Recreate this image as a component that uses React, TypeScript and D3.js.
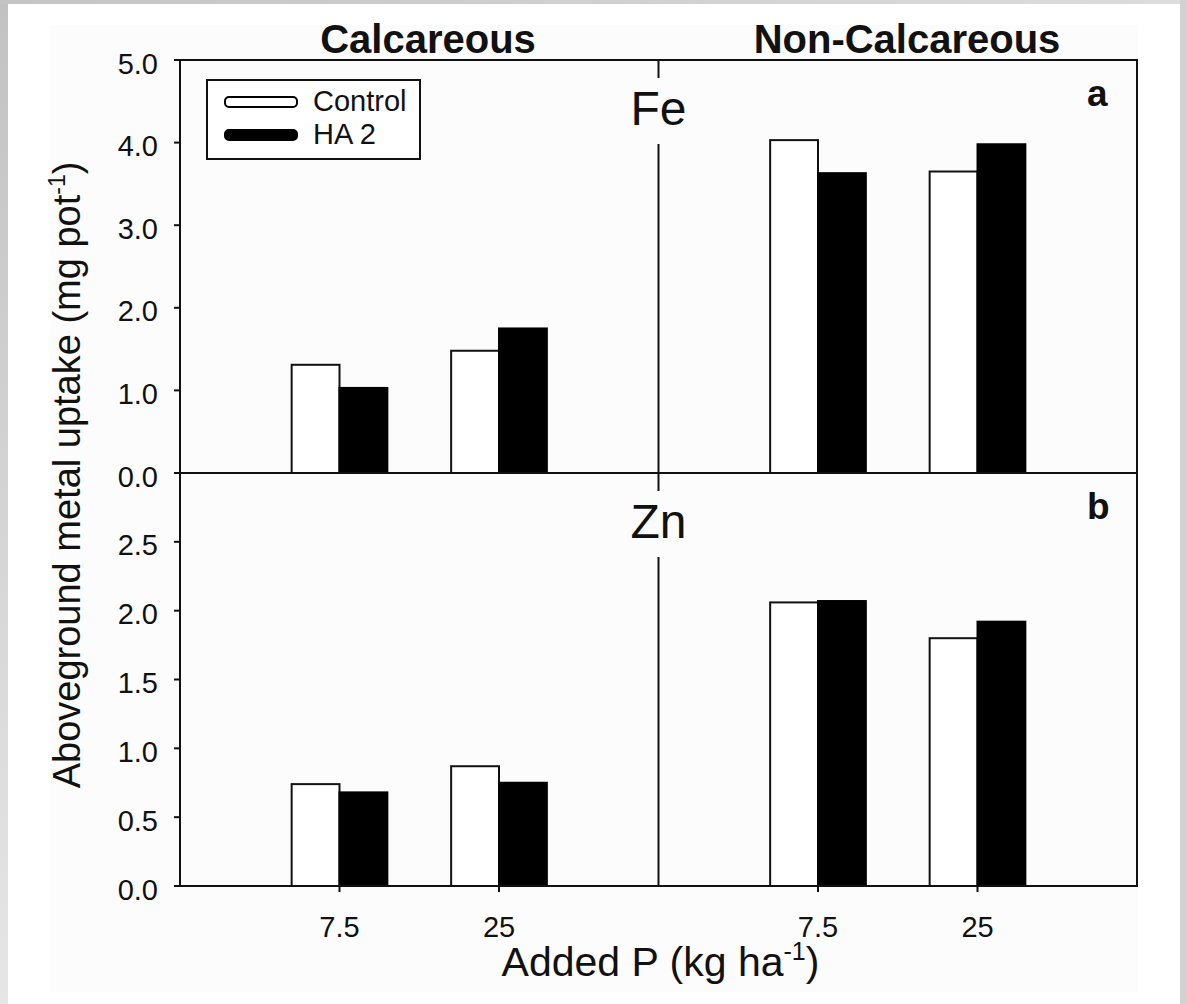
import React from 'react';
import * as d3 from 'd3';

// soils and P rates along the x axis
const soils = ['Calcareous', 'Non-Calcareous'];
const rates = ['7.5', '25', '7.5', '25'];
const ratePos = [1, 2, 4, 5];
const dividerPos = 3;
const seriesNames = ['Control', 'HA 2'];

// panel a: Fe uptake (mg pot-1)
const feControl = [1.31, 1.48, 4.03, 3.65];
const feHA2 = [1.03, 1.75, 3.63, 3.98];
const feTicks = [0, 1, 2, 3, 4, 5];

// panel b: Zn uptake (mg pot-1)
const znControl = [0.74, 0.87, 2.06, 1.8];
const znHA2 = [0.68, 0.75, 2.07, 1.92];
const znTicks = [0, 0.5, 1, 1.5, 2, 2.5];

const W = 1187;
const H = 1004;
const left = 180;
const right = 1137;
const top = 60;
const mid = 473;
const bottom = 886;
const barW = 0.3; // in x units
const font = '"Liberation Sans", Arial, Helvetica, sans-serif';
const ink = '#111';

const x = d3.scaleLinear().domain([0, 6]).range([left, right]);

const panels = [
  { metal: 'Fe', letter: 'a', control: feControl, ha: feHA2, ticks: feTicks, max: 5, y0: top, y1: mid },
  { metal: 'Zn', letter: 'b', control: znControl, ha: znHA2, ticks: znTicks, max: 3, y0: mid, y1: bottom },
];

const App: React.FC = () => {
  return (
    <svg width={W} height={H} style={{ position: 'absolute', left: 0, top: 0 }} fontFamily={font}>
      <defs>
        <linearGradient id="lg" x1="0" y1="0" x2="0" y2="1">
          <stop offset="0" stopColor="#c2c2c2" />
          <stop offset="1" stopColor="#e6e6e6" />
        </linearGradient>
        <linearGradient id="tg" x1="0" y1="0" x2="1" y2="0">
          <stop offset="0" stopColor="#c4c4c4" />
          <stop offset="1" stopColor="#dcdcdc" />
        </linearGradient>
      </defs>
      <rect x={0} y={0} width={W} height={H} fill="#fff" />
      <rect x={50} y={25} width={1088} height={967} fill="#fcfcfc" />
      <rect x={0} y={0} width={8} height={H} fill="url(#lg)" />
      <rect x={0} y={0} width={W} height={4} fill="url(#tg)" />
      <rect x={1180} y={0} width={7} height={H} fill="#d2d2d2" />

      {/* soil headers */}
      {soils.map((s, i) => (
        <text key={s} x={i === 0 ? 428 : 907} y={53} textAnchor="middle" fontSize={40} fontWeight="bold" fill={ink}>
          {s}
        </text>
      ))}

      {panels.map(p => {
        const y = d3.scaleLinear().domain([0, p.max]).range([p.y1, p.y0]);
        const dx = x(dividerPos);
        return (
          <g key={p.metal}>
            {/* bars */}
            {ratePos.map((pos, i) => (
              <g key={i}>
                <rect
                  x={x(pos - barW)}
                  y={y(p.control[i])}
                  width={x(pos) - x(pos - barW)}
                  height={y(0) - y(p.control[i])}
                  fill="#fff"
                  stroke={ink}
                  strokeWidth={2}
                />
                <rect
                  x={x(pos)}
                  y={y(p.ha[i])}
                  width={x(pos + barW) - x(pos)}
                  height={y(0) - y(p.ha[i])}
                  fill="#000"
                  stroke="#000"
                  strokeWidth={2}
                />
              </g>
            ))}
            {/* divider with a gap for the metal label */}
            <line x1={dx} x2={dx} y1={p.y0} y2={p.y0 + 18} stroke={ink} strokeWidth={2} />
            <line x1={dx} x2={dx} y1={p.y0 + 84} y2={p.y1} stroke={ink} strokeWidth={2} />
            <text x={dx} y={p.y0 + 65} textAnchor="middle" fontSize={48} fill={ink}>
              {p.metal}
            </text>
            <text x={1087} y={p.y0 + 46} fontSize={37} fontWeight="bold" fill={ink}>
              {p.letter}
            </text>
            {/* y ticks */}
            {p.ticks.map(t => (
              <g key={t} transform={`translate(0,${y(t)})`}>
                <line x1={left - 6} x2={left} stroke={ink} strokeWidth={2} />
                <text x={158} y={13.5} textAnchor="end" fontSize={29} fill={ink}>
                  {d3.format('.1f')(t)}
                </text>
              </g>
            ))}
            <line x1={left} x2={right} y1={p.y1} y2={p.y1} stroke={ink} strokeWidth={2} />
          </g>
        );
      })}

      {/* frame */}
      <rect x={left} y={top} width={right - left} height={bottom - top} fill="none" stroke={ink} strokeWidth={2} />

      {/* x ticks */}
      {ratePos.map((pos, i) => (
        <g key={i} transform={`translate(${x(pos)},${bottom})`}>
          <line y1={0} y2={6} stroke={ink} strokeWidth={2} />
          <text y={51} textAnchor="middle" fontSize={29} fill={ink}>
            {rates[i]}
          </text>
        </g>
      ))}

      {/* legend */}
      <rect x={207} y={80} width={213} height={79} fill="#fff" stroke={ink} strokeWidth={2} />
      {seriesNames.map((s, i) => (
        <g key={s}>
          <rect
            x={225}
            y={i === 0 ? 97 : 130}
            width={72}
            height={10}
            rx={4}
            fill={i === 0 ? '#fff' : '#000'}
            stroke="#000"
            strokeWidth={2}
          />
          <text x={313} y={i === 0 ? 111 : 144} fontSize={29} fill={ink}>
            {s}
          </text>
        </g>
      ))}

      {/* axis titles */}
      <text x={(left + right) / 2 + 2} y={976} textAnchor="middle" fontSize={41} fill={ink}>
        Added P (kg ha
        <tspan fontSize={25} dy={-16}>-1</tspan>
        <tspan dy={16}>)</tspan>
      </text>
      <text transform={`translate(80,${(top + bottom) / 2 + 2}) rotate(-90)`} textAnchor="middle" fontSize={38} fill={ink}>
        Aboveground metal uptake (mg pot
        <tspan fontSize={23} dy={-15}>-1</tspan>
        <tspan dy={15}>)</tspan>
      </text>
    </svg>
  );
};

export default App;
